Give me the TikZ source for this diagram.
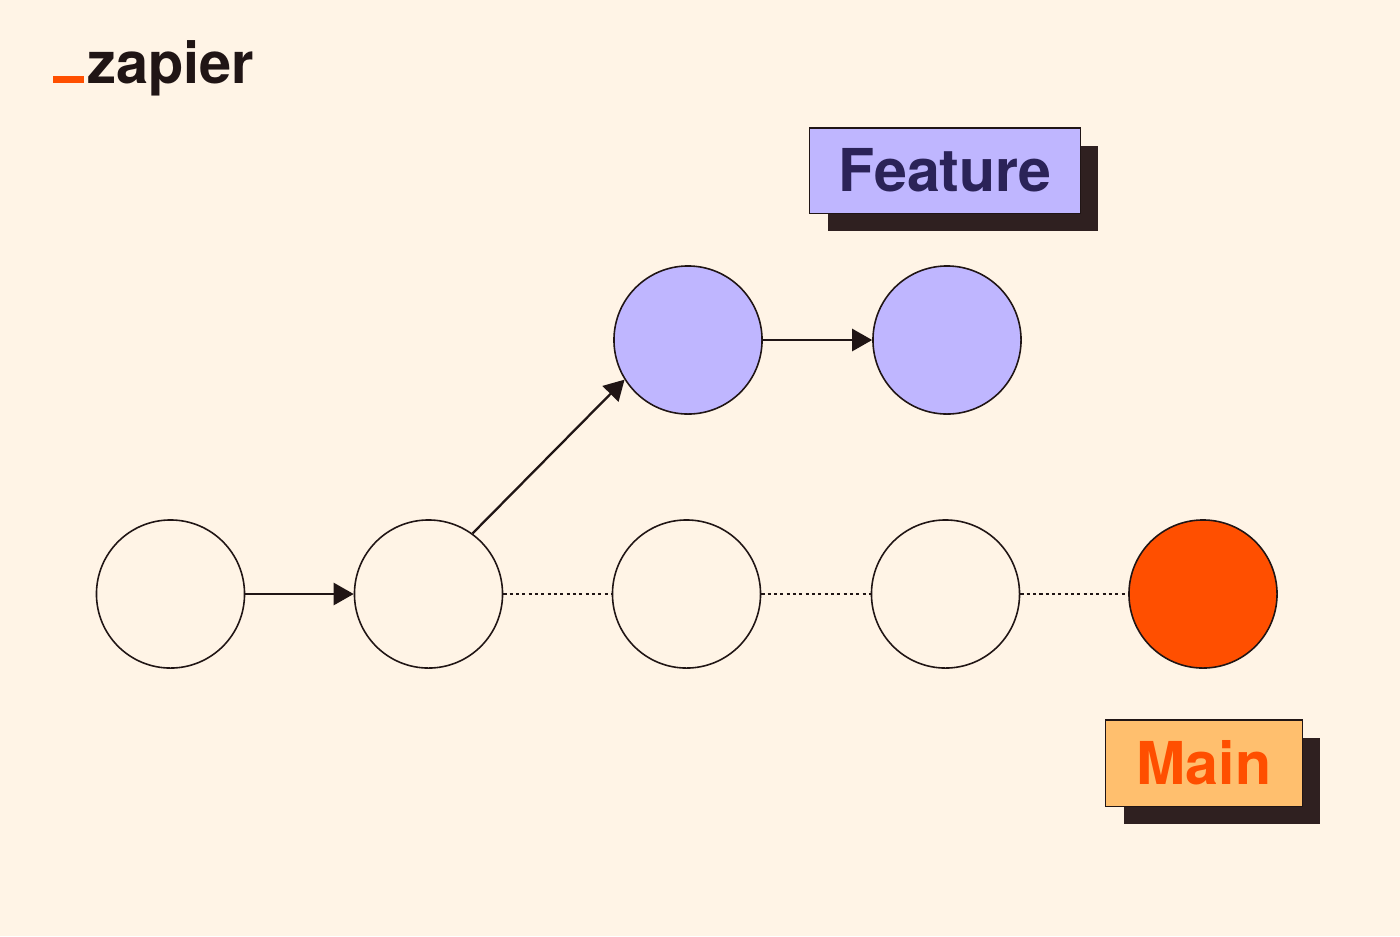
\documentclass[tikz,border=0pt]{standalone}
\usepackage{fontspec}
\setmainfont{TeX Gyre Heros}
\usetikzlibrary{arrows.meta,shadows}

\definecolor{cream}{HTML}{FFF4E6}
\definecolor{ink}{HTML}{201515}
\definecolor{zorange}{HTML}{FF4F00}
\definecolor{lavender}{HTML}{BFB6FF}
\definecolor{navy}{HTML}{2B2358}
\definecolor{peach}{HTML}{FFBF6E}
\definecolor{umber}{HTML}{2F2020}

\tikzset{
  commit/.style={circle, draw=ink, line width=0.45pt, minimum size=1.48cm, inner sep=0pt},
  branch/.style={draw=ink, line width=0.3pt, inner sep=0pt,
    font=\fontsize{16.8}{20}\selectfont\bfseries,
    general shadow={fill=umber, shadow xshift=0.18cm, shadow yshift=-0.18cm}},
  link/.style={ink, line width=0.65pt, -{Triangle[length=5.7pt,width=6.3pt]}},
  later/.style={ink, line width=0.75pt, dash pattern=on 0.9pt off 0.9pt},
}

\begin{document}
\begin{tikzpicture}[x=0.01cm, y=-0.01cm]

% Background
\fill[cream] (0,0) rectangle (1400,936);
\useasboundingbox (0,0) rectangle (1400,936);

% Logo
\fill[zorange] (53,76) rectangle (84,83);
\node[anchor=base west, inner sep=0pt, text=ink, font=\fontsize{16.4}{18}\selectfont\bfseries] (logo) at (87,83) {zapier};

% Commits on main
\node[commit, fill=cream] (m1) at (170.5,594) {};
\node[commit, fill=cream] (m2) at (428.5,594) {};
\node[commit, fill=cream] (m3) at (686.5,594) {};
\node[commit, fill=cream] (m4) at (945.5,594) {};
\node[commit, fill=zorange] (m5) at (1203,594) {};

% Commits on feature
\node[commit, fill=lavender] (f1) at (688,340) {};
\node[commit, fill=lavender] (f2) at (947,340) {};

% Arrows
\draw[link] (m1.east) -- (m2.west);
\draw[link] (m2.54) -- (f1.212);
\draw[link] (f1.east) -- (f2.west);

% Dotted main line
\draw[later] (m2.east) -- (m3.west);
\draw[later] (m3.east) -- (m4.west);
\draw[later] (m4.east) -- (m5.west);

% Branch labels
\node[branch, fill=lavender, text=navy, minimum width=2.7cm, minimum height=0.85cm] (feature) at (945,170.5) {Feature};
\node[branch, fill=peach, text=zorange, minimum width=1.96cm, minimum height=0.86cm] (main) at (1204,763) {Main};

\end{tikzpicture}
\end{document}
